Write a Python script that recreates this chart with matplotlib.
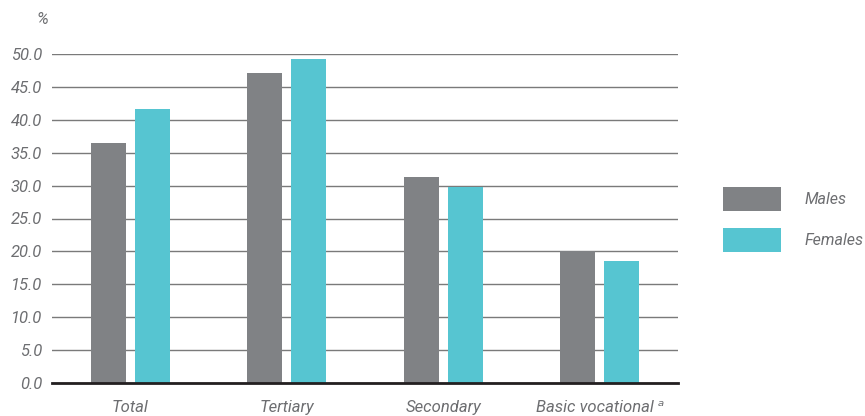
import matplotlib
matplotlib.use("Agg")
import matplotlib.pyplot as plt
import numpy as np

categories = ["Total", "Tertiary", "Secondary", "Basic vocational ᵃ"]
males = [36.4, 47.1, 31.3, 20.1]
females = [41.6, 49.2, 29.8, 18.6]
yticks = [0, 5, 10, 15, 20, 25, 30, 35, 40, 45, 50]

plt.rcParams["font.family"] = ["Roboto", "DejaVu Sans"]

grey = "#808285"
cyan = "#56c5d1"
txt = "#6d6e71"
fs = 12

fig = plt.figure(figsize=(8.65, 4.16), dpi=100)
ax = fig.add_axes([52 / 865, 1 - 383 / 416, 626 / 865, 329 / 416])

x = np.arange(len(categories))
w = 0.224
off = 0.1406
ax.bar(x - off, males, w, color=grey, label="Males", zorder=3)
ax.bar(x + off, females, w, color=cyan, label="Females", zorder=3)

ax.set_xlim(-0.5, 3.5)
ax.set_ylim(0, 50)
ax.set_yticks(yticks)
ax.set_yticklabels([f"{v:.1f}" for v in yticks], fontsize=fs, style="italic", color=txt)
ax.set_xticks(x)
ax.set_xticklabels(categories, fontsize=fs, style="italic", color=txt)
ax.tick_params(length=0, pad=7)
ax.tick_params(axis="x", pad=12)
ax.yaxis.grid(True, color="#7a7a7a", linewidth=1.0, zorder=0)
for s in ["top", "right", "left"]:
    ax.spines[s].set_visible(False)
ax.spines["bottom"].set_color("#231f20")
ax.spines["bottom"].set_linewidth(2)
ax.spines["bottom"].set_zorder(4)

fig.text(36 / 865, 1 - 20 / 416, "%", fontsize=fs, style="italic", color=txt, ha="left", va="center")

leg = ax.legend(loc="upper left", bbox_to_anchor=(709 / 865, 1 - 173 / 416),
                bbox_transform=fig.transFigure, frameon=False,
                prop={"size": 11.5, "style": "italic"},
                handlelength=3.6, handleheight=1.9, handletextpad=1.5,
                labelspacing=1.08)
for t in leg.get_texts():
    t.set_color(txt)

fig.savefig("out.png", dpi=100)
